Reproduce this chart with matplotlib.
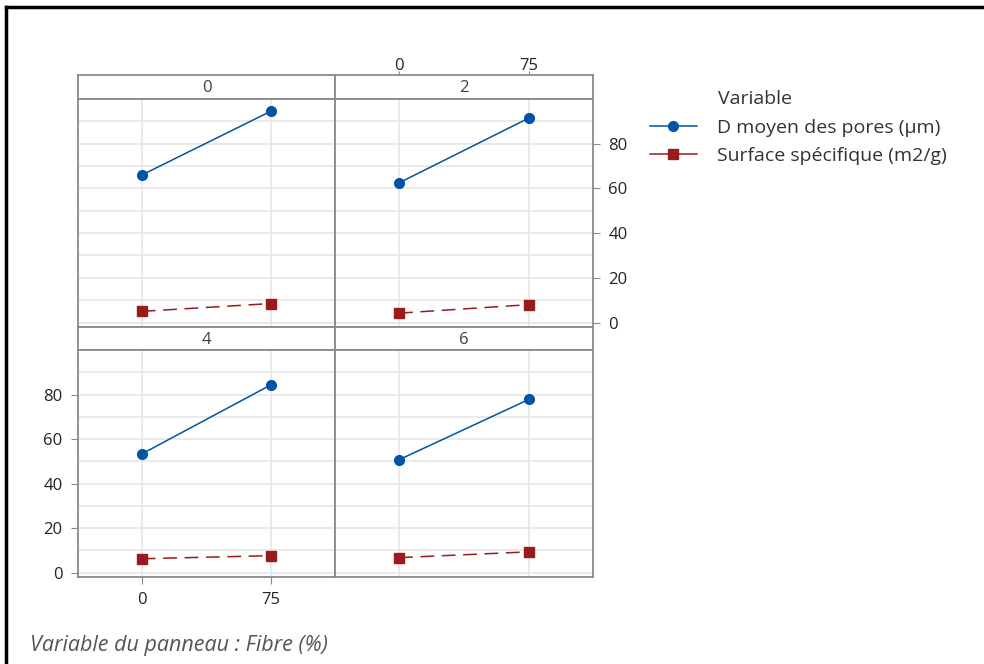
import numpy as np
import matplotlib.pyplot as plt
from matplotlib.lines import Line2D

plt.rcParams['font.family'] = ['Open Sans', 'DejaVu Sans']

fibre = [0, 75]
panels = ['0', '2', '4', '6']
# D moyen des pores (um) per panel, at fibre 0 and 75
d_pores = [[66.0, 94.6], [62.5, 91.5], [53.3, 84.4], [50.7, 77.8]]
# Surface specifique (m2/g)
surface = [[5.0, 8.5], [4.2, 8.0], [6.2, 7.6], [6.7, 9.3]]

blue = '#0054a6'
red = '#991b1b'
frame = '#8a8a8a'
grid = '#e6e6e6'
txt = '#333333'

W, H = 984, 664
fig = plt.figure(figsize=(W / 100, H / 100), dpi=100)

# panel boxes in pixels
cols = [(78, 335), (335, 593)]
rows = [(75, 99, 327), (327, 350, 577)]
XLIM = (-37, 112)


def px_axes(x0, x1, y0, y1):
    return fig.add_axes([x0 / W, 1 - y1 / H, (x1 - x0) / W, (y1 - y0) / H])


for i, name in enumerate(panels):
    r, c = divmod(i, 2)
    x0, x1 = cols[c]
    st, pt, pb = rows[r]

    strip = px_axes(x0, x1, st, pt)
    strip.set_xlim(XLIM)
    strip.set_xticks([])
    strip.set_yticks([])
    for s in strip.spines.values():
        s.set_color(frame)
        s.set_linewidth(1.3)
    strip.text(0.5, 0.45, name, ha='center', va='center', fontsize=12,
               color='#404040', transform=strip.transAxes)

    ax = px_axes(x0, x1, pt, pb)
    ax.set_xlim(XLIM)
    ax.set_ylim(-2, 100)
    ax.set_yticks(np.arange(0, 81, 20))
    ax.set_yticks(np.arange(10, 91, 20), minor=True)
    ax.set_xticks(fibre)
    ax.grid(True, which='both', color=grid, linewidth=1.2)
    ax.set_axisbelow(True)
    for s in ax.spines.values():
        s.set_color(frame)
        s.set_linewidth(1.3)
    ax.tick_params(which='minor', length=0)
    ax.tick_params(which='major', color=frame, length=5, labelsize=12,
                   labelcolor='#222222', pad=6)

    ax.plot(fibre, d_pores[i], color=blue, lw=1.1, marker='o', ms=7)
    ax.plot(fibre, surface[i], color=red, lw=1.1, marker='s', ms=7,
            linestyle=(0, (9, 5)))

    if i == 1:
        ax.yaxis.tick_right()
        ax.tick_params(axis='x', length=0, labelbottom=False)
        # top ticks sit above the strip
        strip.set_xticks(fibre)
        strip.xaxis.tick_top()
        strip.tick_params(axis='x', color=frame, length=3, labelsize=12,
                          labelcolor='#222222', pad=-2)
    elif i == 2:
        pass
    else:
        ax.tick_params(axis='both', which='major', length=0,
                       labelbottom=False, labelleft=False)

handles = [
    Line2D([], [], color=blue, lw=1.1, marker='o', ms=7),
    Line2D([], [], color=red, lw=1.1, marker='s', ms=7),
]
leg = fig.legend(handles, ['D moyen des pores (µm)', 'Surface spécifique (m2/g)'],
                 loc='upper left', bbox_to_anchor=(650 / W, 1 - 119 / H),
                 frameon=False, fontsize=14, handlelength=2.4,
                 handletextpad=1.05, labelspacing=0.5, borderpad=0,
                 borderaxespad=0)
for t in leg.get_texts():
    t.set_color(txt)
fig.text(718 / W, 1 - 99 / H, 'Variable', fontsize=14, color=txt,
         va='center', ha='left')

fig.text(30 / W, 1 - 645 / H, 'Variable du panneau : Fibre (%)', fontsize=15.5,
         style='italic', color='#555555', va='center', ha='left')

# border lines of the cropped frame
fig.add_artist(Line2D([6 / W, 6 / W], [1 - 7 / H, 0], color='black', lw=2.5,
                      transform=fig.transFigure))
fig.add_artist(Line2D([6 / W, 1], [1 - 7 / H, 1 - 7 / H], color='black', lw=2.5,
                      transform=fig.transFigure))

fig.savefig('out.png', dpi=100)
